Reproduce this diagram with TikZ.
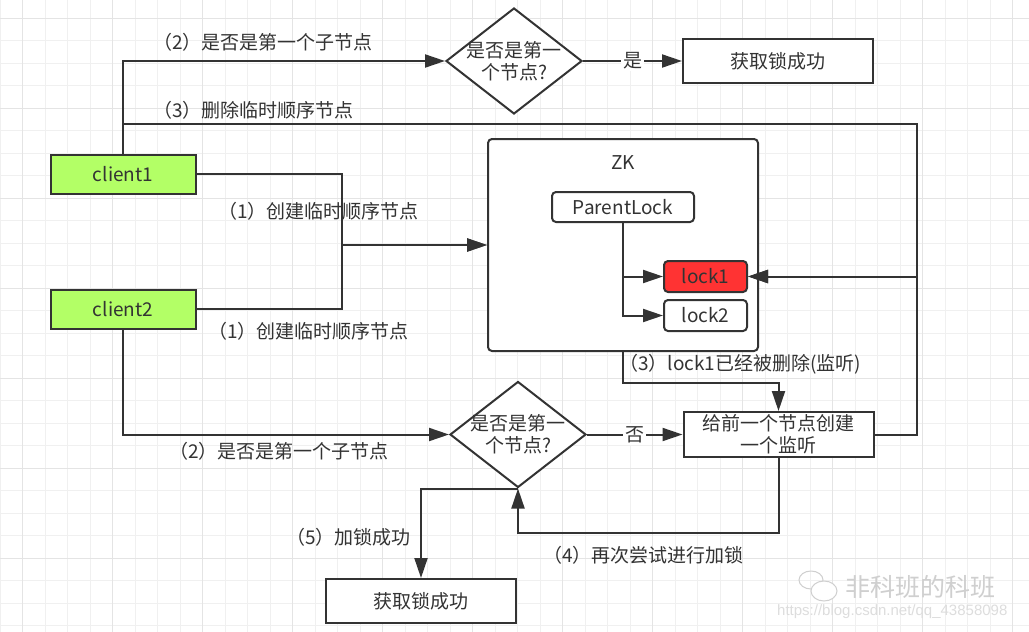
\documentclass[tikz,border=0pt]{standalone}
\usepackage{fontspec}
\setmainfont{Noto Sans CJK SC}
\newfontfamily\urlfont{Liberation Sans}
\usetikzlibrary{arrows.meta,shapes.geometric}
\definecolor{lc}{HTML}{333333}
\definecolor{clientgreen}{HTML}{B3FF66}
\definecolor{lockred}{HTML}{FF3333}
\definecolor{gridminor}{HTML}{F0F0F0}
\definecolor{gridmajor}{HTML}{E4E4E4}
\definecolor{wmark}{HTML}{CFCFCF}
\newcommand\lblfont{\fontsize{19}{22}\selectfont}

\begin{document}
\begin{tikzpicture}[x=1pt, y=-1pt,
    conn/.style={draw=lc, line width=2pt},
    arr/.style={conn, -{Triangle[length=20pt,width=13pt]}},
    box/.style={draw=lc, line width=2pt, fill=white, text=lc, font=\lblfont, inner sep=0pt, minimum width=190pt, minimum height=44pt, align=center},
    client/.style={box, fill=clientgreen, minimum width=145pt, minimum height=39pt},
    zknode/.style={box, rounded corners=4pt, minimum width=83pt, minimum height=31pt},
    decide/.style={diamond, draw=lc, line width=2pt, fill=white, inner sep=0pt, minimum width=136pt, minimum height=106pt},
    txt/.style={text=lc, font=\lblfont, inner sep=0pt, align=center},
    lbl/.style={txt, anchor=west},
    onedge/.style={txt, fill=white, inner sep=2pt}
]
\useasboundingbox (0,0) rectangle (1029,632);
\fill[white] (0,0) rectangle (1029,632);

% background grid
\foreach \gx in {0,...,45} {\draw[gridminor, line width=1pt] ({0.2+22.5*\gx},0) -- ++(0,632);}
\foreach \gy in {0,...,27} {\draw[gridminor, line width=1pt] (0,{18.3+22.5*\gy}) -- ++(1029,0);}
\foreach \gx in {0,...,11} {\draw[gridmajor, line width=1.2pt] ({22.7+90*\gx},0) -- ++(0,632);}
\foreach \gy in {0,...,6} {\draw[gridmajor, line width=1.2pt] (0,{18.3+90*\gy}) -- ++(1029,0);}

% clients
\node[client] (client1) at (123,174) {client1};
\node[client] (client2) at (123,309) {client2};

% ZK tree
\node[box, rounded corners=4pt, minimum width=270pt, minimum height=212pt] (zk) at (623,245) {};
\node[txt] (zktitle) at (623,163) {ZK};
\node[zknode, minimum width=142pt, minimum height=30pt] (parent) at (623,207) {ParentLock};
\node[zknode, fill=lockred] (lock1) at (705.5,276.5) {lock1};
\node[zknode] (lock2) at (705.5,315.5) {lock2};

% decisions and results
\node[decide] (dtop) at (514,61) {};
\node[txt] (dtoptext) at (dtop) {是否是第一\\个节点?};
\node[box] (gettop) at (778,61) {获取锁成功};
\node[decide] (ddown) at (518,434.5) {};
\node[txt] (ddowntext) at (ddown) {是否是第一\\个节点?};
\node[box, minimum height=45pt] (listen) at (778.5,434.5) {给前一个节点创建\\一个监听};
\node[box] (getbot) at (421,601) {获取锁成功};

% connectors
\coordinate (rt) at (917,124);
\coordinate (mj) at (342,245);
\draw[arr] (client1.north) |- (dtop.west);
\draw[arr] (client1.north) |- (rt) |- (lock1.east);
\draw[arr] (listen.east) -| (rt |- lock1.east) -- (lock1.east);
\draw[arr] (client1.east) -| (mj) -- (zk.west);
\draw[arr] (client2.east) -| (mj) -- (zk.west);
\draw[arr] (parent.south) |- (lock1.west);
\draw[arr] (parent.south) |- (lock2.west);
\draw[arr] (zk.south) -- ++(0,31) -| (listen.north);
\draw[arr] (dtop.east) -- node[onedge] (yes) {是} (gettop.west);
\draw[arr] (client2.south) |- (ddown.west);
\draw[arr] (ddown.east) -- node[onedge] (no) {否} (listen.west);
\draw[arr] (listen.south) -- ++(0,75) -| (ddown.south);
\draw[arr] (ddown.south) -| (getbot.north);

% step labels
\node[lbl] (l2top) at (153,42) {（2）是否是第一个子节点};
\node[lbl] (l3top) at (153,110) {（3）删除临时顺序节点};
\node[lbl] (l1a) at (218,211) {（1）创建临时顺序节点};
\node[lbl] (l1b) at (208,331) {（1）创建临时顺序节点};
\node[lbl] (l2bot) at (169,451) {（2）是否是第一个子节点};
\node[lbl] (l3zk) at (619,364) {（3）lock1已经被删除(监听)};
\node[lbl] (l4) at (543,555) {（4）再次尝试进行加锁};
\node[lbl] (l5) at (286,537) {（5）加锁成功};

% watermark
\draw[wmark, line width=1pt] (811,580) ellipse (12pt and 9pt);
\draw[wmark, fill=white, line width=1pt] (824,591) ellipse (13pt and 10pt);
\node[font=\fontsize{25}{25}\selectfont, text=wmark, anchor=west, inner sep=0pt] (wmtitle) at (845,587) {非科班的科班};
\node[font=\urlfont\fontsize{15}{15}\selectfont, text=wmark!70, anchor=west, inner sep=0pt] (wmurl) at (777,612) {https://blog.csdn.net/qq\_43858098};
\end{tikzpicture}
\end{document}
